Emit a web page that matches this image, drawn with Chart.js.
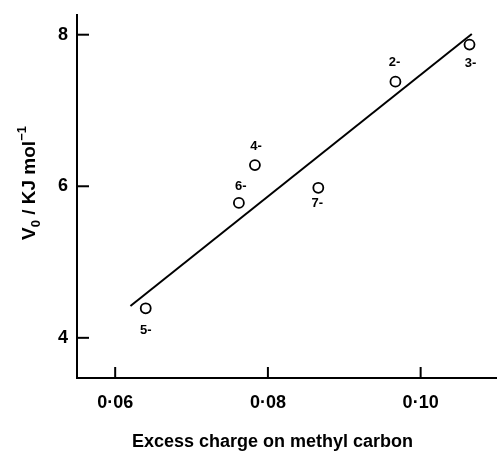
<!DOCTYPE html>
<html>
<head>
<meta charset="utf-8">
<script src="https://cdn.jsdelivr.net/npm/chart.js@4.4.0/dist/chart.umd.min.js"></script>
<style>
    html, body { margin: 0; padding: 0; background: #fff; }
    #wrap { width: 497px; height: 453px; }
</style>
</head>
<body>
<div id="wrap"><canvas id="chart" width="497" height="453"></canvas></div>
<script>
// values
const pointX = [0.0640, 0.0762, 0.0783, 0.0866, 0.0967, 0.1064];
const pointY = [4.39, 5.78, 6.28, 5.98, 7.38, 7.87];
const pointLabels = ['5-', '6-', '4-', '7-', '2-', '3-'];
const fitX = [0.0620, 0.1067];
const fitY = [4.42, 8.01];
const xTicks = [0.06, 0.08, 0.10];
const yTicks = [4, 6, 8];

const FONT = '"Liberation Sans", Arial, sans-serif';

// where each point label sits relative to its circle (px)
const labelOffsets = [[0, 22], [2, -17], [1, -19], [-1, 16], [-1, -19], [1, 19]];

const decorations = {
    id: 'decorations',
    afterDatasetsDraw(c) {
        const ctx = c.ctx;
        const xs = c.scales.x, ys = c.scales.y;
        const area = c.chartArea;
        ctx.save();
        ctx.strokeStyle = '#000';
        ctx.lineWidth = 2;
        // inward tick marks
        yTicks.forEach(v => {
            const py = ys.getPixelForValue(v);
            ctx.beginPath();
            ctx.moveTo(area.left, py);
            ctx.lineTo(area.left + 12, py);
            ctx.stroke();
        });
        xTicks.forEach(v => {
            const px = xs.getPixelForValue(v);
            ctx.beginPath();
            ctx.moveTo(px, area.bottom);
            ctx.lineTo(px, area.bottom - 11);
            ctx.stroke();
        });

        // point labels
        ctx.fillStyle = '#000';
        ctx.font = 'bold 13px ' + FONT;
        ctx.textAlign = 'center';
        ctx.textBaseline = 'middle';
        const meta = c.getDatasetMeta(1);
        meta.data.forEach((el, i) => {
            const o = labelOffsets[i];
            ctx.fillText(pointLabels[i], el.x + o[0], el.y + o[1]);
        });

        // x title, spread a little like the original lettering
        const title = 'Excess charge on methyl carbon';
        ctx.font = 'bold 18px ' + FONT;
        const w = ctx.measureText(title).width;
        ctx.letterSpacing = Math.max(0, (278 - w) / (title.length - 1)) + 'px';
        ctx.textAlign = 'left';
        ctx.fillText(title, 132, 442);
        ctx.letterSpacing = '0px';

        // y title: V0 / KJ mol-1
        ctx.translate(28, 183);
        ctx.rotate(-Math.PI / 2);
        ctx.textAlign = 'left';
        ctx.textBaseline = 'alphabetic';
        const parts = [
            { t: 'V', f: 'bold 19px ' + FONT, dy: 0 },
            { t: '0', f: 'bold 13px ' + FONT, dy: 5 },
            { t: ' / KJ mol', f: 'bold 19px ' + FONT, dy: 0 },
            { t: '\u22121', f: 'bold 13px ' + FONT, dy: -9 }
        ];
        let total = 0;
        parts.forEach(p => { ctx.font = p.f; p.w = ctx.measureText(p.t).width; total += p.w; });
        let x = -total / 2;
        parts.forEach(p => {
            ctx.font = p.f;
            ctx.fillText(p.t, x, 7 + p.dy);
            x += p.w;
        });
        ctx.restore();
    }
};

new Chart(document.getElementById('chart'), {
    type: 'scatter',
    data: {
        datasets: [
            {
                type: 'line',
                data: fitX.map((x, i) => ({ x: x, y: fitY[i] })),
                borderColor: '#000',
                borderWidth: 2,
                pointRadius: 0,
                fill: false,
                order: 2
            },
            {
                data: pointX.map((x, i) => ({ x: x, y: pointY[i] })),
                pointStyle: 'circle',
                pointRadius: 5,
                borderColor: '#000',
                borderWidth: 1.8,
                backgroundColor: '#fff',
                order: 1
            }
        ]
    },
    options: {
        responsive: false,
        animation: false,
        layout: { autoPadding: false, padding: { top: 15, right: 0, left: 0, bottom: 0 } },
        plugins: {
            legend: { display: false },
            tooltip: { enabled: false }
        },
        scales: {
            x: {
                type: 'linear',
                min: 0.055,
                max: 0.110,
                afterBuildTicks: s => { s.ticks = xTicks.map(v => ({ value: v })); },
                afterFit: s => { s.height = 75; s.paddingLeft = 0; s.paddingRight = 0; },
                grid: { display: false, drawTicks: false },
                border: { display: true, color: '#000', width: 2 },
                ticks: {
                    color: '#000',
                    padding: 14,
                    maxRotation: 0,
                    font: { family: FONT, size: 18, weight: 'bold' },
                    callback: v => v.toFixed(2).replace('.', '\u00b7')
                }
            },
            y: {
                type: 'linear',
                min: 3.47,
                max: 8.26,
                afterBuildTicks: s => { s.ticks = yTicks.map(v => ({ value: v })); },
                afterFit: s => { s.width = 77; s.paddingTop = 0; s.paddingBottom = 0; },
                grid: { display: false, drawTicks: false },
                border: { display: true, color: '#000', width: 2 },
                ticks: {
                    color: '#000',
                    padding: 9,
                    font: { family: FONT, size: 18, weight: 'bold' },
                    callback: v => String(v)
                }
            }
        }
    },
    plugins: [decorations]
});
</script>
</body>
</html>
